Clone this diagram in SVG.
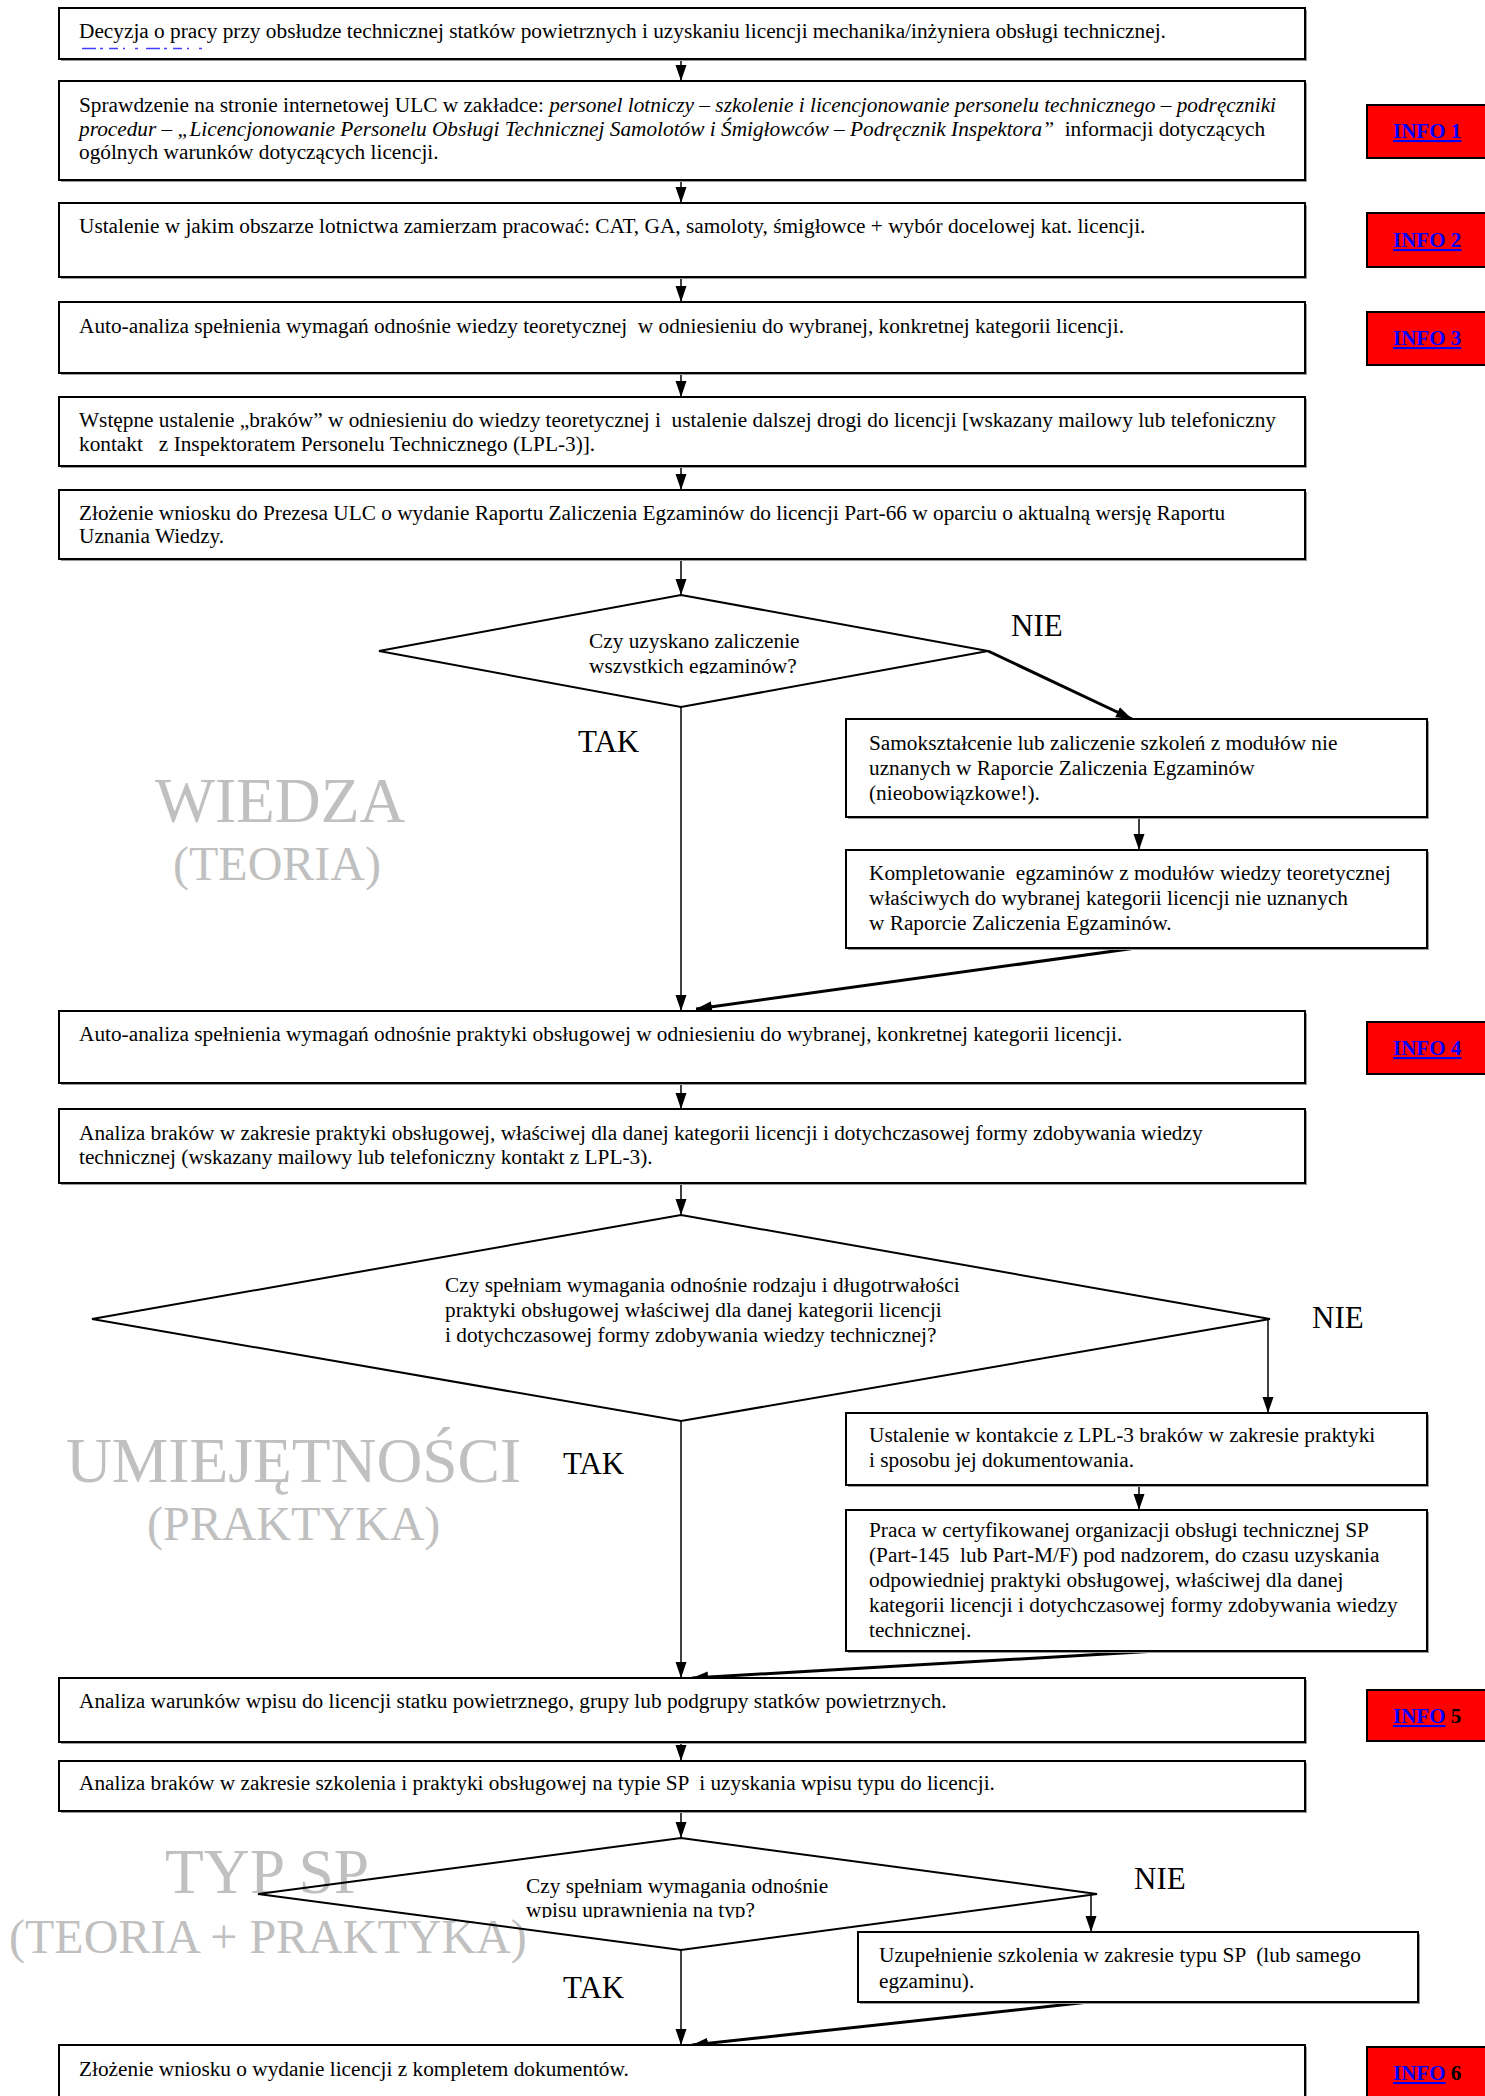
<svg xmlns="http://www.w3.org/2000/svg" width="1485" height="2096" viewBox="0 0 1485 2096">
<style>
.box{fill:#fff;stroke:#000;stroke-width:2}
.sh{fill:#9a9a9a}
.dia{fill:none;stroke:#000;stroke-width:2}
.t{font-family:"Liberation Serif","Times New Roman",serif;font-size:21.3px;fill:#000;white-space:pre}
.i{font-style:italic}
.lbl{font-size:31px}
.wm{fill:#c0c0c0}
.wm1{font-size:63.5px}
.wm2{font-size:48px}
.info{fill:#f00;stroke:#000;stroke-width:2}
.it{font-weight:bold;font-size:21px}
.lnk{fill:#00f;text-decoration:underline}
.c{stroke:#000;stroke-width:1.5;fill:none;marker-end:url(#ah)}
.ck{stroke-width:3}
</style>
<defs>
<marker id="ah" markerUnits="userSpaceOnUse" markerWidth="17" markerHeight="12" refX="16" refY="5.5" orient="auto">
<path d="M0,0 L16,5.5 L0,11 z" fill="#000"/>
</marker>
<clipPath id="cd1"><rect x="560" y="620" width="300" height="54"/></clipPath>
<clipPath id="cd3"><rect x="500" y="1865" width="360" height="53"/></clipPath>
<clipPath id="cb12"><rect x="846" y="1510" width="581" height="130"/></clipPath>
</defs>

<g id="watermarks" class="t wm">
<text class="wm1" x="155" y="822">WIEDZA</text>
<text class="wm2" x="173" y="880">(TEORIA)</text>
<text class="wm1" x="66" y="1482">UMIEJĘTNOŚCI</text>
<text class="wm2" x="147" y="1540">(PRAKTYKA)</text>
<text class="wm1" x="165" y="1893">TYP SP</text>
<text class="wm2" x="9" y="1953">(TEORIA + PRAKTYKA)</text>
</g>

<g id="connectors">
<line class="c" x1="681" y1="59" x2="681" y2="81"/>
<line class="c" x1="681" y1="180" x2="681" y2="203"/>
<line class="c" x1="681" y1="277" x2="681" y2="302"/>
<line class="c" x1="681" y1="373" x2="681" y2="397"/>
<line class="c" x1="681" y1="466" x2="681" y2="490"/>
<line class="c" x1="681" y1="559" x2="681" y2="595"/>
<line class="c ck" x1="988" y1="651" x2="1132" y2="719"/>
<line class="c" x1="1139" y1="817" x2="1139" y2="850"/>
<line class="c ck" x1="1136" y1="948" x2="696" y2="1009"/>
<line class="c" x1="681" y1="707" x2="681" y2="1011"/>
<line class="c" x1="681" y1="1083" x2="681" y2="1109"/>
<line class="c" x1="681" y1="1183" x2="681" y2="1215"/>
<line class="c" x1="1268" y1="1319" x2="1268" y2="1413"/>
<line class="c" x1="1139" y1="1485" x2="1139" y2="1510"/>
<line class="c ck" x1="1157" y1="1651" x2="692" y2="1678"/>
<line class="c" x1="681" y1="1421" x2="681" y2="1678"/>
<line class="c" x1="681" y1="1742" x2="681" y2="1761"/>
<line class="c" x1="681" y1="1811" x2="681" y2="1838"/>
<line class="c" x1="1091" y1="1894" x2="1091" y2="1932"/>
<line class="c ck" x1="1089" y1="2002" x2="692" y2="2045"/>
<line class="c" x1="681" y1="1950" x2="681" y2="2045"/>
</g>

<g id="n1">
<rect class="sh" x="61" y="10" width="1246" height="51"/>
<rect class="box" x="59" y="8" width="1246" height="51"/>
<text class="t" x="79" y="38">Decyzja o pracy przy obsłudze technicznej statków powietrznych i uzyskaniu licencji mechanika/inżyniera obsługi technicznej.</text>
<line x1="82" y1="48.5" x2="205" y2="48.5" stroke="#4040ff" stroke-width="1.5" stroke-dasharray="14,4,3,6,9,5,2,10,3,8"/>
</g>

<g id="n2">
<rect class="sh" x="61" y="83" width="1246" height="99"/>
<rect class="box" x="59" y="81" width="1246" height="99"/>
<text class="t" x="79" y="112">Sprawdzenie na stronie internetowej ULC w zakładce: <tspan class="i">personel lotniczy – szkolenie i licencjonowanie personelu technicznego – podręczniki</tspan></text>
<text class="t" x="79" y="135.5"><tspan class="i">procedur – „Licencjonowanie Personelu Obsługi Technicznej Samolotów i Śmigłowców – Podręcznik Inspektora”</tspan>  informacji dotyczących</text>
<text class="t" x="79" y="159">ogólnych warunków dotyczących licencji.</text>
</g>

<g id="n3">
<rect class="sh" x="61" y="205" width="1246" height="74"/>
<rect class="box" x="59" y="203" width="1246" height="74"/>
<text class="t" x="79" y="233">Ustalenie w jakim obszarze lotnictwa zamierzam pracować: CAT, GA, samoloty, śmigłowce + wybór docelowej kat. licencji.</text>
</g>

<g id="n4">
<rect class="sh" x="61" y="304" width="1246" height="71"/>
<rect class="box" x="59" y="302" width="1246" height="71"/>
<text class="t" x="79" y="333">Auto-analiza spełnienia wymagań odnośnie wiedzy teoretycznej  w odniesieniu do wybranej, konkretnej kategorii licencji.</text>
</g>

<g id="n5">
<rect class="sh" x="61" y="399" width="1246" height="69"/>
<rect class="box" x="59" y="397" width="1246" height="69"/>
<text class="t" x="79" y="427">Wstępne ustalenie „braków” w odniesieniu do wiedzy teoretycznej i  ustalenie dalszej drogi do licencji [wskazany mailowy lub telefoniczny</text>
<text class="t" x="79" y="451">kontakt   z Inspektoratem Personelu Technicznego (LPL-3)].</text>
</g>

<g id="n6">
<rect class="sh" x="61" y="492" width="1246" height="69"/>
<rect class="box" x="59" y="490" width="1246" height="69"/>
<text class="t" x="79" y="520">Złożenie wniosku do Prezesa ULC o wydanie Raportu Zaliczenia Egzaminów do licencji Part-66 w oparciu o aktualną wersję Raportu</text>
<text class="t" x="79" y="543">Uznania Wiedzy.</text>
</g>

<g id="d1">
<polygon class="dia" points="681,595 988,651 681,707 379,651"/>
<g clip-path="url(#cd1)">
<text class="t" x="589" y="648">Czy uzyskano zaliczenie</text>
<text class="t" x="589" y="673">wszystkich egzaminów?</text>
</g>
<text class="t lbl" x="1011" y="636">NIE</text>
<text class="t lbl" x="578" y="752">TAK</text>
</g>

<g id="n7">
<rect class="sh" x="848" y="721" width="581" height="98"/>
<rect class="box" x="846" y="719" width="581" height="98"/>
<text class="t" x="869" y="750">Samokształcenie lub zaliczenie szkoleń z modułów nie</text>
<text class="t" x="869" y="775">uznanych w Raporcie Zaliczenia Egzaminów</text>
<text class="t" x="869" y="800">(nieobowiązkowe!).</text>
</g>

<g id="n8">
<rect class="sh" x="848" y="852" width="581" height="98"/>
<rect class="box" x="846" y="850" width="581" height="98"/>
<text class="t" x="869" y="880">Kompletowanie  egzaminów z modułów wiedzy teoretycznej</text>
<text class="t" x="869" y="905">właściwych do wybranej kategorii licencji nie uznanych</text>
<text class="t" x="869" y="930">w Raporcie Zaliczenia Egzaminów.</text>
</g>

<g id="n9">
<rect class="sh" x="61" y="1013" width="1246" height="72"/>
<rect class="box" x="59" y="1011" width="1246" height="72"/>
<text class="t" x="79" y="1041">Auto-analiza spełnienia wymagań odnośnie praktyki obsługowej w odniesieniu do wybranej, konkretnej kategorii licencji.</text>
</g>

<g id="n10">
<rect class="sh" x="61" y="1111" width="1246" height="74"/>
<rect class="box" x="59" y="1109" width="1246" height="74"/>
<text class="t" x="79" y="1140">Analiza braków w zakresie praktyki obsługowej, właściwej dla danej kategorii licencji i dotychczasowej formy zdobywania wiedzy</text>
<text class="t" x="79" y="1164">technicznej (wskazany mailowy lub telefoniczny kontakt z LPL-3).</text>
</g>

<g id="d2">
<polygon class="dia" points="681,1215 1270,1319 681,1421 92,1319"/>
<text class="t" x="445" y="1292">Czy spełniam wymagania odnośnie rodzaju i długotrwałości</text>
<text class="t" x="445" y="1317">praktyki obsługowej właściwej dla danej kategorii licencji</text>
<text class="t" x="445" y="1342">i dotychczasowej formy zdobywania wiedzy technicznej?</text>
<text class="t lbl" x="1312" y="1328">NIE</text>
<text class="t lbl" x="563" y="1474">TAK</text>
</g>

<g id="n11">
<rect class="sh" x="848" y="1415" width="581" height="72"/>
<rect class="box" x="846" y="1413" width="581" height="72"/>
<text class="t" x="869" y="1442">Ustalenie w kontakcie z LPL-3 braków w zakresie praktyki</text>
<text class="t" x="869" y="1467">i sposobu jej dokumentowania.</text>
</g>

<g id="n12">
<rect class="sh" x="848" y="1512" width="581" height="141"/>
<rect class="box" x="846" y="1510" width="581" height="141"/>
<g clip-path="url(#cb12)">
<text class="t" x="869" y="1537">Praca w certyfikowanej organizacji obsługi technicznej SP</text>
<text class="t" x="869" y="1562">(Part-145  lub Part-M/F) pod nadzorem, do czasu uzyskania</text>
<text class="t" x="869" y="1587">odpowiedniej praktyki obsługowej, właściwej dla danej</text>
<text class="t" x="869" y="1612">kategorii licencji i dotychczasowej formy zdobywania wiedzy</text>
<text class="t" x="869" y="1637">technicznej.</text>
</g>
</g>

<g id="n13">
<rect class="sh" x="61" y="1680" width="1246" height="64"/>
<rect class="box" x="59" y="1678" width="1246" height="64"/>
<text class="t" x="79" y="1708">Analiza warunków wpisu do licencji statku powietrznego, grupy lub podgrupy statków powietrznych.</text>
</g>

<g id="n14">
<rect class="sh" x="61" y="1763" width="1246" height="50"/>
<rect class="box" x="59" y="1761" width="1246" height="50"/>
<text class="t" x="79" y="1790">Analiza braków w zakresie szkolenia i praktyki obsługowej na typie SP  i uzyskania wpisu typu do licencji.</text>
</g>

<g id="d3">
<polygon class="dia" points="681,1838 1097,1894 681,1950 258,1894"/>
<g clip-path="url(#cd3)">
<text class="t" x="526" y="1893">Czy spełniam wymagania odnośnie</text>
<text class="t" x="526" y="1917">wpisu uprawnienia na typ?</text>
</g>
<text class="t lbl" x="1134" y="1889">NIE</text>
<text class="t lbl" x="563" y="1998">TAK</text>
</g>

<g id="n15">
<rect class="sh" x="860" y="1934" width="560" height="70"/>
<rect class="box" x="858" y="1932" width="560" height="70"/>
<text class="t" x="879" y="1962">Uzupełnienie szkolenia w zakresie typu SP  (lub samego</text>
<text class="t" x="879" y="1988">egzaminu).</text>
</g>

<g id="n16">
<rect class="sh" x="61" y="2047" width="1246" height="70"/>
<rect class="box" x="59" y="2045" width="1246" height="70"/>
<text class="t" x="79" y="2076">Złożenie wniosku o wydanie licencji z kompletem dokumentów.</text>
</g>

<g id="info1"><rect class="info" x="1367" y="105" width="130" height="53"/><text class="t it" x="1393" y="138"><tspan class="lnk">INFO 1</tspan></text></g>
<g id="info2"><rect class="info" x="1367" y="213" width="130" height="54"/><text class="t it" x="1393" y="247"><tspan class="lnk">INFO 2</tspan></text></g>
<g id="info3"><rect class="info" x="1367" y="312" width="130" height="53"/><text class="t it" x="1393" y="345"><tspan class="lnk">INFO 3</tspan></text></g>
<g id="info4"><rect class="info" x="1367" y="1022" width="130" height="52"/><text class="t it" x="1393" y="1055"><tspan class="lnk">INFO 4</tspan></text></g>
<g id="info5"><rect class="info" x="1367" y="1690" width="130" height="51"/><text class="t it" x="1393" y="1723"><tspan class="lnk">INFO</tspan> 5</text></g>
<g id="info6"><rect class="info" x="1367" y="2047" width="130" height="70"/><text class="t it" x="1393" y="2080"><tspan class="lnk">INFO</tspan> 6</text></g>
</svg>
